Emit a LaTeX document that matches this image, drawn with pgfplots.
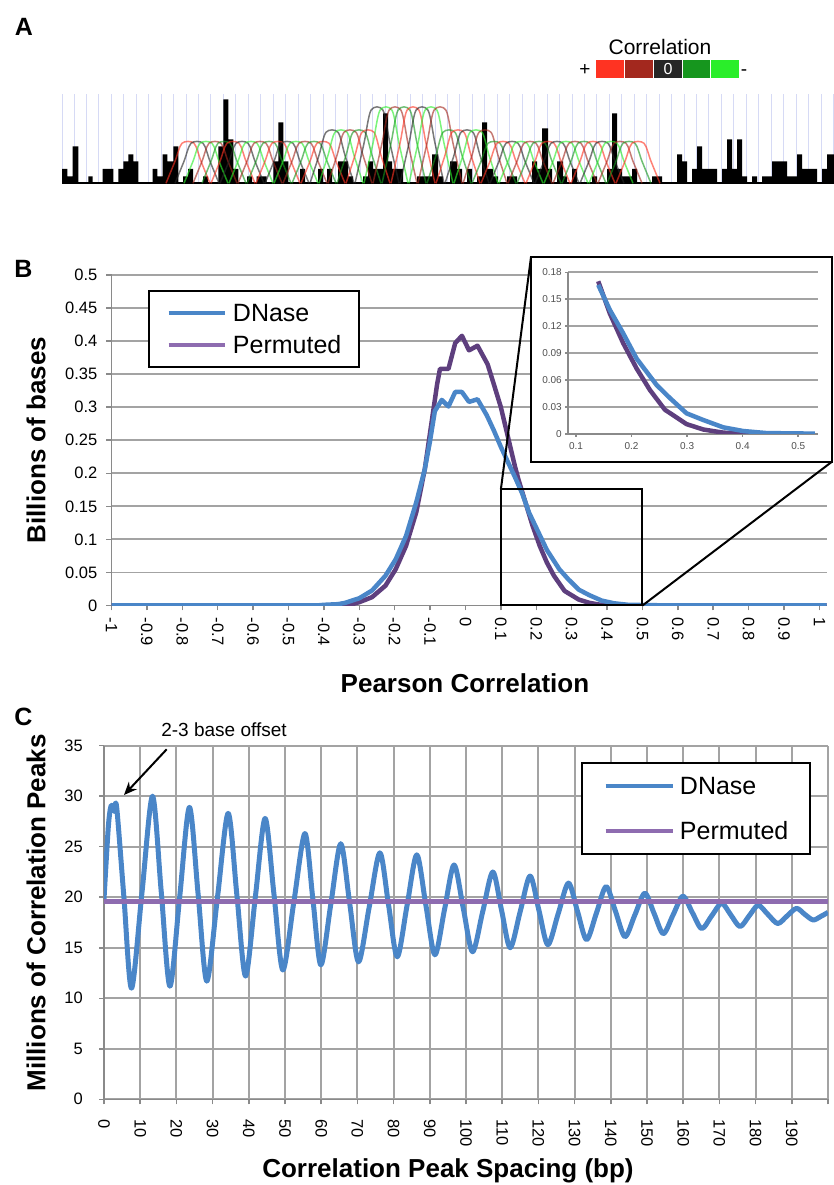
\documentclass[border=0pt]{standalone}
\usepackage{fontspec}
\setmainfont{Liberation Sans}
\usepackage{pgfplots}
\pgfplotsset{compat=1.18}
\usetikzlibrary{arrows.meta}

\definecolor{dnase}{HTML}{4A86C8}
\definecolor{perm}{HTML}{5E3F7E}
\definecolor{permlight}{HTML}{8E6CB0}
\definecolor{gridgray}{HTML}{A3A3A3}
\definecolor{axgray}{HTML}{8A8A8A}
\definecolor{inlbl}{HTML}{505050}
\definecolor{cR}{HTML}{FF3322}
\definecolor{cDR}{HTML}{A3281E}
\definecolor{cK}{HTML}{262626}
\definecolor{cDG}{HTML}{16961E}
\definecolor{cG}{HTML}{2AEE2A}
\definecolor{vline}{HTML}{D6DAF5}

\newcommand{\fs}[1]{\fontsize{#1}{#1}\selectfont}

\pgfplotsset{
  hump/.style={smooth, no marks, line width=1.5pt, draw=#1, draw opacity=0.62},
  chart/.style={
    scale only axis, axis x line*=bottom, axis y line*=left,
    axis line style={axgray, line width=1.5pt, -},
    tick align=outside, major tick length=5pt,
    tick style={axgray, line width=1.5pt},
    tick label style={font=\fs{16.5}, inner sep=0pt},
    /pgf/number format/assume math mode=true,
    grid style={gridgray, line width=1.8pt},
    legend cell align=left,
  },
}

\begin{document}
\begin{tikzpicture}
\useasboundingbox (0pt,0pt) rectangle (834pt,1185pt);

% ---------------- panel A ----------------
\begin{axis}[
  at={(62pt,1001.7pt)}, anchor=south west, scale only axis,
  width=772pt, height=89pt, xmin=62, xmax=834, ymin=0, ymax=89,
  axis x line=bottom, axis y line=none,
  x axis line style={-, black, line width=2.2pt},
  xtick={74,86.45,...,834}, xticklabels={}, major tick length=0pt,
  xmajorgrids, major grid style={vline, line width=1pt},
  extra x ticks={62}, extra x tick labels={}, extra x tick style={grid style={red!40, line width=1pt}},
  ytick=\empty,
]
\addplot[const plot, fill=black, draw=none] coordinates {
(62,14.5)(67.3,7)(72.7,37)(78.3,0)(88.3,7)(92.7,0)(102.7,14.5)(113.3,0)
(118.3,14.5)(123.3,22)(128.3,29)(133.3,22)(138.3,0)(152.7,14.5)(157.3,7)
(162.7,29)(167.3,22)(173.3,37)(178.3,0)(183,7)(188,14.5)(193,0)(203,7)(208,0)
(218.3,37)(223.3,84)(228.3,44)(233.3,14.5)(238.3,0)(247,7)(252,0)(256.7,7)
(266.7,0)(273.3,22)(278.3,61)(283.3,22)(288.3,0)(300,14.5)(305,0)(318,14.5)
(323,0)(327,14.5)(332,0)(338,22)(348,7)(353,0)(363,7)(368,22)(373,14.5)
(383,70)(388,22)(392,14.5)(403,0)(417,7)(432,29)(438,7)(443,0)(450,22)
(457,14.5)(462,0)(467,14.5)(472,0)(477,7)(482,61)(487,14.5)(493,7)(498,0)
(507,7)(517,0)(532,22)(537,14.5)(542,55)(548,14.5)(552,0)(557,22)(563,7)
(567,0)(572,14.5)(577,0)(592,7)(597,0)(607,14.5)(612,70)(617,14.5)(622,7)
(632,14.5)(637,0)(652,7)(662,0)(677,29)(682,22)(687,0)(692,14.5)(697,37)
(702,14.5)(717,0)(722,14.5)(727,44)(732,14.5)(737,44)(742,7)(747,0)(752,7)
(757,0)(762,7)(772,22)(787,7)(797,29)(802,14.5)(817,0)(822,14.5)(827,29)(834,29)
} \closedcycle;
\addplot[hump=cR]  coordinates {(166,0)(175,22)(182,40)(194,40)(201,22)(210,0)};
\addplot[hump=cK]  coordinates {(175,0)(184,22)(191,40)(203,40)(210,22)(219,0)};
\addplot[hump=cG]  coordinates {(184,0)(193,22)(200,40)(212,40)(219,22)(228,0)};
\addplot[hump=cDR] coordinates {(193,0)(202,22)(209,40)(221,40)(228,22)(237,0)};
\addplot[hump=cDG] coordinates {(202,0)(211,22)(218,40)(230,40)(237,22)(246,0)};
\addplot[hump=cR]  coordinates {(211,0)(220,22)(227,40)(239,40)(246,22)(255,0)};
\addplot[hump=cK]  coordinates {(220,0)(229,22)(236,40)(248,40)(255,22)(264,0)};
\addplot[hump=cG]  coordinates {(229,0)(238,22)(245,40)(257,40)(264,22)(273,0)};
\addplot[hump=cDR] coordinates {(238,0)(247,22)(254,40)(266,40)(273,22)(282,0)};
\addplot[hump=cDG] coordinates {(247,0)(256,22)(263,40)(275,40)(282,22)(291,0)};
\addplot[hump=cR]  coordinates {(256,0)(265,22)(272,40)(284,40)(291,22)(300,0)};
\addplot[hump=cK]  coordinates {(265,0)(274,22)(281,40)(293,40)(300,22)(309,0)};
\addplot[hump=cG]  coordinates {(274,0)(283,22)(290,40)(302,40)(309,22)(318,0)};
\addplot[hump=cDR] coordinates {(283,0)(292,22)(299,40)(311,40)(318,22)(327,0)};
\addplot[hump=cDG] coordinates {(292,0)(301,22)(308,40)(320,40)(327,22)(336,0)};
\addplot[hump=cR]  coordinates {(301,0)(310,22)(317,40)(329,40)(336,22)(345,0)};
\addplot[hump=cK]  coordinates {(310,0)(319,28)(326,51)(338,51)(345,28)(354,0)};
\addplot[hump=cG]  coordinates {(319,0)(328,28)(335,51)(347,51)(354,28)(363,0)};
\addplot[hump=cDR] coordinates {(328,0)(337,28)(344,51)(356,51)(363,28)(372,0)};
\addplot[hump=cDG] coordinates {(337,0)(346,28)(353,51)(365,51)(372,28)(381,0)};
\addplot[hump=cR]  coordinates {(346,0)(355,28)(362,51)(374,51)(381,28)(390,0)};
\addplot[hump=cK]  coordinates {(355,0)(364,40)(371,73)(383,73)(390,40)(399,0)};
\addplot[hump=cG]  coordinates {(364,0)(373,40)(380,73)(392,73)(399,40)(408,0)};
\addplot[hump=cDR] coordinates {(373,0)(382,40)(389,73)(401,73)(408,40)(417,0)};
\addplot[hump=cDG] coordinates {(382,0)(391,40)(398,73)(410,73)(417,40)(426,0)};
\addplot[hump=cR]  coordinates {(391,0)(400,40)(407,73)(419,73)(426,40)(435,0)};
\addplot[hump=cK]  coordinates {(400,0)(409,40)(416,73)(428,73)(435,40)(444,0)};
\addplot[hump=cG]  coordinates {(409,0)(418,40)(425,73)(437,73)(444,40)(453,0)};
\addplot[hump=cDR] coordinates {(418,0)(427,40)(434,73)(446,73)(453,40)(462,0)};
\addplot[hump=cDG] coordinates {(427,0)(436,28)(443,51)(455,51)(462,28)(471,0)};
\addplot[hump=cR]  coordinates {(436,0)(445,28)(452,51)(464,51)(471,28)(480,0)};
\addplot[hump=cK]  coordinates {(445,0)(454,28)(461,51)(473,51)(480,28)(489,0)};
\addplot[hump=cG]  coordinates {(454,0)(463,28)(470,51)(482,51)(489,28)(498,0)};
\addplot[hump=cDR] coordinates {(463,0)(472,28)(479,51)(491,51)(498,28)(507,0)};
\addplot[hump=cDG] coordinates {(472,0)(481,22)(488,40)(500,40)(507,22)(516,0)};
\addplot[hump=cR]  coordinates {(481,0)(490,22)(497,40)(509,40)(516,22)(525,0)};
\addplot[hump=cK]  coordinates {(490,0)(499,22)(506,40)(518,40)(525,22)(534,0)};
\addplot[hump=cG]  coordinates {(499,0)(508,22)(515,40)(527,40)(534,22)(543,0)};
\addplot[hump=cDR] coordinates {(508,0)(517,22)(524,40)(536,40)(543,22)(552,0)};
\addplot[hump=cDG] coordinates {(517,0)(526,22)(533,40)(545,40)(552,22)(561,0)};
\addplot[hump=cR]  coordinates {(526,0)(535,22)(542,40)(554,40)(561,22)(570,0)};
\addplot[hump=cK]  coordinates {(535,0)(544,22)(551,40)(563,40)(570,22)(579,0)};
\addplot[hump=cG]  coordinates {(544,0)(553,22)(560,40)(572,40)(579,22)(588,0)};
\addplot[hump=cDR] coordinates {(553,0)(562,22)(569,40)(581,40)(588,22)(597,0)};
\addplot[hump=cDG] coordinates {(562,0)(571,22)(578,40)(590,40)(597,22)(606,0)};
\addplot[hump=cR]  coordinates {(571,0)(580,22)(587,40)(599,40)(606,22)(615,0)};
\addplot[hump=cK]  coordinates {(580,0)(589,22)(596,40)(608,40)(615,22)(624,0)};
\addplot[hump=cG]  coordinates {(589,0)(598,22)(605,40)(617,40)(624,22)(633,0)};
\addplot[hump=cDR] coordinates {(598,0)(607,22)(614,40)(626,40)(633,22)(642,0)};
\addplot[hump=cDG] coordinates {(607,0)(616,22)(623,40)(635,40)(642,22)(651,0)};
\addplot[hump=cR]  coordinates {(616,0)(625,22)(632,40)(644,40)(651,22)(660,0)};
\end{axis}

% colour key of panel A
\node[font=\fs{21}] at (660pt,1137.5pt) {Correlation};
\node[font=\fs{19}] at (585pt,1115pt) {+};
\node[font=\fs{19}] at (744pt,1112pt) {-};
\fill[cR]  (596pt,1106.7pt) rectangle (624pt,1125pt);
\fill[cDR] (625pt,1106.7pt) rectangle (653pt,1125pt);
\fill[cK]  (654pt,1106.7pt) rectangle (682pt,1125pt);
\fill[cDG] (683pt,1106.7pt) rectangle (710pt,1125pt);
\fill[cG]  (711pt,1106.7pt) rectangle (739pt,1125pt);
\node[white, font=\fs{16}] at (668pt,1116pt) {0};

% ---------------- panel B ----------------
\begin{axis}[chart,
  at={(111.5pt,579.5pt)}, anchor=south west, width=715pt, height=330.5pt,
  xmin=-1, xmax=1.02, ymin=0, ymax=0.5,
  xtick={-1,-0.9,-0.8,-0.7,-0.6,-0.5,-0.4,-0.3,-0.2,-0.1,0,0.1,0.2,0.3,0.4,0.5,0.6,0.7,0.8,0.9,1},
  xticklabels={-1,-0.9,-0.8,-0.7,-0.6,-0.5,-0.4,-0.3,-0.2,-0.1,0,0.1,0.2,0.3,0.4,0.5,0.6,0.7,0.8,0.9,1},
  ytick={0,0.05,0.1,0.15,0.2,0.25,0.3,0.35,0.4,0.45,0.5},
  yticklabels={0,0.05,0.1,0.15,0.2,0.25,0.3,0.35,0.4,0.45,0.5},
  ymajorgrids,
  xticklabel style={rotate=-90, anchor=west},
  yticklabel style={anchor=east},
  xticklabel shift=7pt, yticklabel shift=9pt,
  xlabel={Pearson Correlation}, ylabel={Billions of bases},
  label style={font=\fs{26}\bfseries},
  xlabel style={at={(axis description cs:0.4944,-0.2345)}, anchor=center},
  ylabel style={at={(axis description cs:-0.1056,0.5008)}, anchor=center},
  legend style={at={(0.051,0.9546)}, anchor=north west, draw=black, line width=2pt, fill=white,
    inner xsep=17.5pt, inner ysep=9.5pt, row sep=7pt, font=\fs{25},
    nodes={inner sep=0pt, text height=21pt, text depth=4pt},
    /tikz/every odd column/.append style={column sep=6pt}},
  legend image code/.code={\draw[#1, line width=4.5pt] (0pt,0pt) -- (56pt,0pt);},
]
\addlegendimage{dnase}\addlegendentry{DNase}
\addlegendimage{permlight}\addlegendentry{Permuted}
\addplot[perm, line width=4.5pt, line join=round, forget plot] coordinates {
(-1,0)(-0.36,0)(-0.34,0.0005)(-0.32,0.002)(-0.30,0.005)(-0.264,0.0126)(-0.226,0.03)
(-0.197,0.055)(-0.168,0.09)(-0.139,0.141)(-0.115,0.206)(-0.096,0.276)(-0.08,0.335)
(-0.072,0.358)(-0.048,0.358)(-0.029,0.397)(-0.01,0.408)(0.01,0.386)(0.034,0.393)
(0.0625,0.365)(0.08,0.335)(0.10,0.30)(0.12,0.255)(0.14,0.21)(0.15,0.19)(0.17,0.155)
(0.19,0.12)(0.21,0.09)(0.23,0.065)(0.25,0.045)(0.28,0.022)(0.32,0.009)(0.35,0.004)
(0.38,0.0012)(0.42,0.0002)(0.45,0)(1.02,0)};
\addplot[dnase, line width=4.5pt, line join=round, forget plot] coordinates {
(-1,0)(-0.42,0)(-0.40,0.001)(-0.36,0.002)(-0.34,0.004)(-0.30,0.011)(-0.264,0.0226)
(-0.226,0.045)(-0.197,0.07)(-0.168,0.105)(-0.139,0.156)(-0.115,0.206)(-0.101,0.246)
(-0.0865,0.294)(-0.067,0.311)(-0.048,0.301)(-0.029,0.323)(-0.01,0.323)(0.01,0.308)
(0.034,0.312)(0.06,0.288)(0.08,0.265)(0.10,0.24)(0.12,0.217)(0.14,0.194)(0.16,0.17)
(0.18,0.14)(0.205,0.112)(0.23,0.084)(0.265,0.055)(0.29,0.04)(0.32,0.024)(0.35,0.0156)
(0.385,0.0074)(0.42,0.0033)(0.46,0.001)(0.55,0.0003)(0.6,0)(1.02,0)};
\draw[black, line width=2pt] (axis cs:0.1,0) rectangle (axis cs:0.5,0.176);
\end{axis}

% inset
\fill[white] (531pt,723.3pt) rectangle (832pt,928pt);
\draw[black, line width=2.2pt] (531pt,723.3pt) rectangle (832pt,928pt);
\begin{axis}[chart,
  at={(568pt,751pt)}, anchor=south west, width=250pt, height=161.7pt,
  xmin=0.0856, xmax=0.5356, ymin=0, ymax=0.18,
  xtick={0.1,0.2,0.3,0.4,0.5}, xticklabels={0.1,0.2,0.3,0.4,0.5},
  ytick={0,0.03,0.06,0.09,0.12,0.15,0.18},
  yticklabels={0,0.03,0.06,0.09,0.12,0.15,0.18},
  ymajorgrids, major tick length=3pt,
  tick label style={font=\fs{10}, text=inlbl},
  xticklabel shift=5pt, yticklabel shift=3pt,
  yticklabel style={anchor=east},
]
\addplot[perm, line width=4.5pt, line join=round] coordinates {
(0.14,0.170)(0.161,0.134)(0.185,0.101)(0.209,0.073)(0.233,0.049)(0.26,0.027)
(0.299,0.011)(0.329,0.005)(0.365,0.0015)(0.401,0.0004)(0.42,0)};
\addplot[dnase, line width=4.5pt, line join=round] coordinates {
(0.14,0.166)(0.161,0.138)(0.185,0.112)(0.209,0.084)(0.245,0.0546)(0.269,0.040)
(0.299,0.023)(0.329,0.0156)(0.365,0.0074)(0.401,0.0033)(0.443,0.001)(0.53,0.0004)};
\end{axis}
\draw[black, line width=2pt] (500.9pt,695.8pt) -- (531pt,928pt);
\draw[black, line width=2pt] (642.5pt,579.5pt) -- (832pt,723.3pt);

% ---------------- panel C ----------------
\begin{axis}[chart,
  at={(104pt,85.7pt)}, anchor=south west, width=724pt, height=353.6pt,
  xmin=0, xmax=200, ymin=0, ymax=35,
  xtick={0,10,...,200},
  xticklabels={0,10,20,30,40,50,60,70,80,90,100,110,120,130,140,150,160,170,180,190,{}},
  ytick={0,5,...,35},
  grid=major, grid style={gridgray, line width=2pt},
  xticklabel style={rotate=-90, anchor=west},
  yticklabel style={anchor=east},
  xticklabel shift=15pt, yticklabel shift=16pt,
  xlabel={Correlation Peak Spacing (bp)}, ylabel={Millions of Correlation Peaks},
  label style={font=\fs{26}\bfseries},
  xlabel style={at={(axis description cs:0.4751,-0.2036)}, anchor=center},
  ylabel style={at={(axis description cs:-0.0939,0.527)}, anchor=center},
  legend style={at={(0.6588,0.9539)}, anchor=north west, draw=black, line width=2pt, fill=white,
    inner xsep=21.5pt, inner ysep=10.5pt, row sep=20pt, font=\fs{25},
    nodes={inner sep=0pt, text height=21pt, text depth=4pt},
    /tikz/every odd column/.append style={column sep=5pt}},
  legend image code/.code={\draw[#1, line width=4.5pt] (0pt,0pt) -- (67pt,0pt);},
]
\addplot[dnase, line width=5pt, smooth, line join=round] coordinates {
(0,19.8)(1.2,27.0)(2.0,29.1)(2.8,28.5)(3.5,28.9)(5.5,20.0)(7.6,11.0)(10.5,20.5)(13.4,30.0)
(15.8,20.6)(18.2,11.2)(20.9,20.0)(23.6,28.9)(26.0,20.3)(28.4,11.7)(31.35,20.0)
(34.3,28.3)(36.7,20.25)(39.1,12.2)(41.8,20.0)(44.5,27.8)(46.95,20.3)(49.4,12.8)
(52.45,19.55)(55.5,26.3)(57.7,19.8)(59.9,13.3)(62.65,19.3)(65.4,25.3)(67.85,19.45)
(70.3,13.6)(73.25,19.0)(76.2,24.4)(78.6,19.25)(81.0,14.1)(83.7,19.15)(86.4,24.2)
(88.9,19.25)(91.4,14.3)(94.05,18.75)(96.7,23.2)(99.25,18.9)(101.8,14.6)(104.6,18.55)
(107.4,22.5)(109.8,18.75)(112.2,15.0)(114.95,18.55)(117.7,22.1)(120.15,18.7)
(122.6,15.3)(125.45,18.35)(128.3,21.4)(130.8,18.6)(133.3,15.8)(136.0,18.4)
(138.7,21.05)(141.3,18.6)(143.9,16.1)(146.65,18.25)(149.4,20.4)(151.95,18.4)
(154.5,16.4)(157.2,18.25)(159.9,20.1)(162.5,18.5)(165.1,16.9)(167.85,18.15)
(170.6,19.4)(173.15,18.25)(175.7,17.1)(178.2,18.15)(180.7,19.2)(183.4,18.3)
(186.1,17.4)(188.7,18.15)(191.3,18.9)(193.6,18.3)(195.9,17.75)(198,18.1)(200,18.5)};
\addlegendentry{DNase}
\addplot[permlight, line width=5pt] coordinates {(0,19.6)(200,19.6)};
\addlegendentry{Permuted}
\end{axis}

\node[font=\fs{19}] at (224pt,455pt) {2-3 base offset};
\draw[-{Stealth[length=13pt,width=11pt]}, line width=2pt] (166.7pt,435.7pt) -- (124pt,390pt);

% panel letters
\node[font=\fs{25}\bfseries] at (24pt,1158.5pt) {A};
\node[font=\fs{25}\bfseries] at (23.5pt,916pt) {B};
\node[font=\fs{25}\bfseries] at (23.5pt,468.5pt) {C};
\end{tikzpicture}
\end{document}
